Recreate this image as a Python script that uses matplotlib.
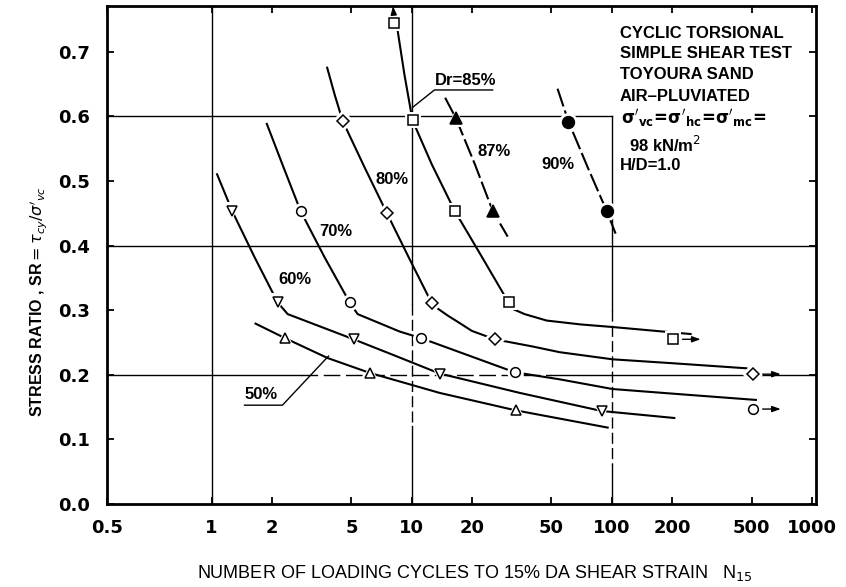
import matplotlib
matplotlib.use("Agg")
import matplotlib.pyplot as plt

plt.rcParams["font.family"] = ["Liberation Sans", "DejaVu Sans"]
plt.rcParams["mathtext.fontset"] = "dejavusans"

# ---- measured points: cycles to 15 % DA strain vs. stress ratio ----
n_50 = [2.32, 6.17, 33.1]
sr_50 = [0.257, 0.203, 0.145]
n_60 = [1.27, 2.14, 5.13, 13.8, 89.0]
sr_60 = [0.453, 0.312, 0.255, 0.202, 0.144]
n_70 = [2.79, 4.9, 11.1, 32.7, 508]
sr_70 = [0.453, 0.312, 0.257, 0.204, 0.147]
n_80 = [4.52, 7.5, 12.6, 26.0, 508]
sr_80 = [0.593, 0.451, 0.311, 0.255, 0.201]
n_85 = [8.2, 10.1, 16.4, 30.5, 202]
sr_85 = [0.745, 0.594, 0.454, 0.312, 0.255]
n_87 = [16.6, 25.4]
sr_87 = [0.598, 0.454]
n_90 = [60.8, 94.6]
sr_90 = [0.592, 0.453]

# ---- hand-fitted strength curves ----
curve_n_50 = [1.64, 2.32, 3.80, 6.17, 13.8, 33.1, 96.6]
curve_sr_50 = [0.280, 0.257, 0.226, 0.203, 0.172, 0.145, 0.118]
curve_n_60 = [1.06, 1.27, 1.64, 2.14, 2.40, 5.13, 8.2, 13.8, 34.7, 89.0, 208]
curve_sr_60 = [0.512, 0.453, 0.382, 0.312, 0.294, 0.255, 0.230, 0.202, 0.172, 0.144, 0.133]
curve_n_70 = [1.88, 2.29, 2.79, 3.67, 4.9, 5.37, 8.71, 11.1, 32.7, 55, 101, 219, 532]
curve_sr_70 = [0.590, 0.521, 0.453, 0.382, 0.312, 0.294, 0.267, 0.257, 0.204, 0.193, 0.178, 0.170, 0.161]
curve_n_80 = [3.77, 4.12, 4.52, 5.82, 7.5, 9.77, 12.6, 13.3, 15.1, 17.4, 20.0, 26.0, 40, 55, 101, 200, 477]
curve_sr_80 = [0.677, 0.634, 0.593, 0.521, 0.451, 0.379, 0.311, 0.304, 0.292, 0.280, 0.268, 0.255,
               0.244, 0.235, 0.224, 0.218, 0.210]
curve_n_85 = [8.5, 9.2, 10.1, 12.6, 16.4, 22.4, 30.5, 32.0, 36.7, 47.3, 70, 101, 251]
curve_sr_85 = [0.734, 0.665, 0.594, 0.526, 0.454, 0.383, 0.312, 0.302, 0.294, 0.284, 0.278, 0.274, 0.263]
curve_n_87 = [14.7, 16.6, 20.7, 25.4, 30.2]
curve_sr_87 = [0.629, 0.598, 0.526, 0.454, 0.414]
curve_n_90 = [53.6, 60.8, 75.9, 94.6, 106]
curve_sr_90 = [0.643, 0.592, 0.521, 0.453, 0.414]

# ---- axis ticks ----
x_left, x_right = 0.30, 1050
x_ticks = [x_left, 1, 2, 5, 10, 20, 50, 100, 200, 500, 1000]
x_tick_labels = ["0.5", "1", "2", "5", "10", "20", "50", "100", "200", "500", "1000"]
y_ticks = [0.0, 0.1, 0.2, 0.3, 0.4, 0.5, 0.6, 0.7]
y_tick_labels = ["0.0", "0.1", "0.2", "0.3", "0.4", "0.5", "0.6", "0.7"]

fig = plt.figure(figsize=(8.46, 5.87), dpi=100)
ax = fig.add_axes([107 / 846, 83 / 587, 709 / 846, 498 / 587])
ax.set_xscale("log")
ax.set_xlim(x_left, x_right)
ax.set_ylim(0.0, 0.771)

for s in ax.spines.values():
    s.set_linewidth(2.0)

ax.xaxis.set_major_locator(plt.FixedLocator(x_ticks))
ax.xaxis.set_major_formatter(plt.FixedFormatter(x_tick_labels))
ax.xaxis.set_minor_locator(plt.NullLocator())
ax.set_yticks(y_ticks)
ax.set_yticklabels(y_tick_labels)
ax.tick_params(direction="in", length=5, width=1.3, top=True, right=True,
               labelsize=13, pad=11)
ax.tick_params(axis="y", pad=12)
for lab in ax.get_xticklabels() + ax.get_yticklabels():
    lab.set_fontfamily("DejaVu Sans")
    lab.set_fontweight("bold")

# ---- reference lines ----
gk = dict(color="black", lw=1.0, zorder=1)
dash = (8, 3)
ax.axvline(1, **gk)
ax.plot([10, 10], [0.771, 0.31], **gk)
ax.plot([10, 10], [0.31, 0.12], dashes=dash, **gk)
ax.plot([10, 10], [0.12, 0.0], **gk)
ax.plot([100, 100], [0.6, 0.30], **gk)
ax.plot([100, 100], [0.30, 0.06], dashes=dash, **gk)
ax.plot([100, 100], [0.06, 0.0], **gk)
ax.plot([x_left, 100], [0.6, 0.6], **gk)
ax.axhline(0.4, **gk)
ax.plot([x_left, 2.8], [0.2, 0.2], **gk)
ax.plot([2.8, 50], [0.2, 0.2], dashes=(12, 4), **gk)
ax.plot([50, x_right], [0.2, 0.2], **gk)

# ---- curves ----
ck = dict(color="black", lw=1.5, zorder=3, solid_capstyle="butt", solid_joinstyle="round")
ax.plot(curve_n_50, curve_sr_50, **ck)
ax.plot(curve_n_60, curve_sr_60, **ck)
ax.plot(curve_n_70, curve_sr_70, **ck)
ax.plot(curve_n_80, curve_sr_80, **ck)
ax.plot(curve_n_85, curve_sr_85, **ck)
ax.plot(curve_n_87, curve_sr_87, dashes=(9, 2), **ck)
ax.plot(curve_n_90, curve_sr_90, dashes=(9, 2), **ck)


def points(n, sr, marker, ms, filled=False):
    ax.plot(n, sr, ls="none", marker=marker, ms=ms + 5, mfc="white",
            mec="white", mew=0, zorder=4)
    ax.plot(n, sr, ls="none", marker=marker, ms=ms,
            mfc="black" if filled else "white", mec="black", mew=1.1, zorder=5)


points(n_50, sr_50, "^", 7.5)
points(n_60, sr_60, "v", 7.5)
points(n_70, sr_70, "o", 7)
points(n_80, sr_80, "D", 6)
points(n_85, sr_85, "s", 6.5)
points(n_87, sr_87, "^", 8, filled=True)
points(n_90, sr_90, "o", 8.5, filled=True)

# run-out arrows (no failure at end of test)
ak = dict(arrowstyle="<|-,head_length=0.5,head_width=0.18", color="black",
          lw=1.0, shrinkA=0, shrinkB=7)
for n, sr in [(n_85[-1], sr_85[-1]), (n_80[-1], sr_80[-1]), (n_70[-1], sr_70[-1])]:
    ax.annotate("", xy=(n, sr), xytext=(20, 0), textcoords="offset points",
                arrowprops=ak, zorder=6)
ax.annotate("", xy=(n_85[0], sr_85[0]), xytext=(-1, 12), textcoords="offset points",
            arrowprops=ak, zorder=6)

# ---- curve labels ----
tk = dict(fontsize=12, fontweight="bold", va="center", ha="left", zorder=7)
ax.text(1.46, 0.170, "50%", **tk)
ax.text(2.16, 0.348, "60%", **tk)
ax.text(3.47, 0.422, "70%", **tk)
ax.text(6.6, 0.502, "80%", **tk)
ax.text(13.0, 0.655, "Dr=85%", **tk)
ax.text(21.4, 0.546, "87%", **tk)
ax.text(44.7, 0.526, "90%", **tk)

lk = dict(color="black", lw=1.0, zorder=6)
ax.plot([1.46, 2.26, 3.84], [0.153, 0.153, 0.229], **lk)
ax.plot([25.4, 13.0, 10.1], [0.641, 0.641, 0.614], **lk)

# ---- test description ----
bk = dict(fontsize=12, fontweight="bold", va="center", ha="left", zorder=7)
ax.text(109.6, 0.729, "CYCLIC TORSIONAL", **bk)
ax.text(109.6, 0.697, "SIMPLE SHEAR TEST", **bk)
ax.text(109.6, 0.665, "TOYOURA SAND", **bk)
ax.text(109.6, 0.631, "AIR\u2013PLUVIATED", **bk)
ax.text(111.5, 0.597,
        r"$\mathbf{\sigma'_{vc}\!=\!\sigma'_{hc}\!=\!\sigma'_{mc}\!=}$", **bk)
ax.text(122, 0.556, r"98 kN/m$^{2}$", **bk)
ax.text(109.6, 0.524, "H/D=1.0", **bk)

# ---- axis titles ----
fig.text(475 / 846, 1 - 573 / 587,
         r"NUMBER OF LOADING CYCLES TO 15% DA SHEAR STRAIN   N$_{15}$",
         ha="center", va="center", fontsize=13)
fig.text(38 / 846, 1 - 302 / 587,
         r"STRESS RATIO , SR$=\tau_{cy}/\sigma'_{vc}$",
         ha="center", va="center", rotation=90, fontsize=11.5, fontweight="bold")

fig.savefig("out.png", dpi=100)
